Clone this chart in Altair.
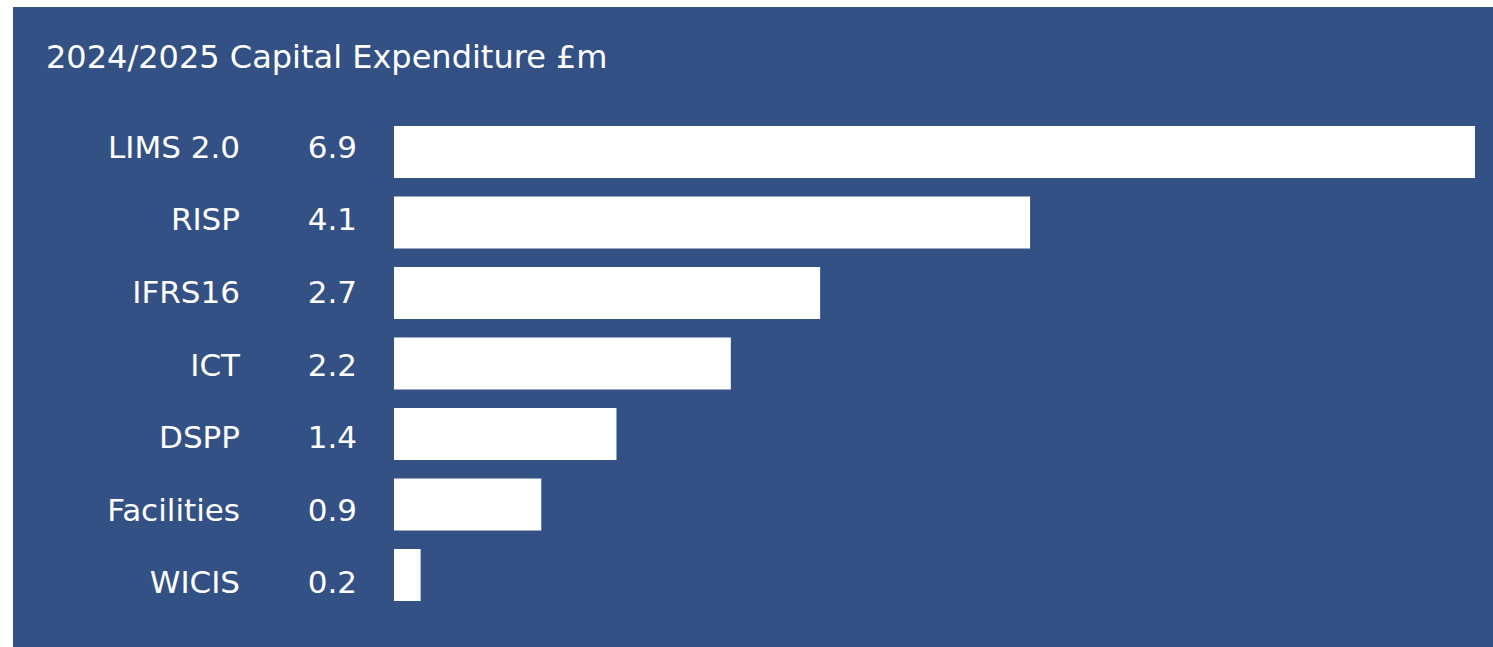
import altair as alt
import pandas as pd

categories = ["LIMS 2.0", "RISP", "IFRS16", "ICT", "DSPP", "Facilities", "WICIS"]
values = [6.9, 4.06, 2.72, 2.15, 1.42, 0.94, 0.17]
value_labels = ["6.9", "4.1", "2.7", "2.2", "1.4", "0.9", "0.2"]
title_text = "2024/2025 Capital Expenditure £m"

df = pd.DataFrame({"cat": categories, "val": values, "lab": value_labels})

BLUE = "#345185"
FONT = "DejaVu Sans"

bar_y = alt.Y("cat:N", sort=categories, axis=None,
              scale=alt.Scale(range=[119, 594], paddingInner=0.262, paddingOuter=0))
text_y = alt.Y("cat:N", sort=categories, axis=None,
               scale=alt.Scale(type="point", range=[150.7, 586.3], padding=0))

bars = alt.Chart(df).mark_bar(color="white", cornerRadius=0).encode(
    x=alt.X("val:Q", axis=None, scale=alt.Scale(domain=[0, 6.9], range=[381, 1462], nice=False, zero=True)),
    y=bar_y,
)

cat_text = alt.Chart(df).mark_text(align="right", baseline="alphabetic", color="white",
                                   font=FONT, fontSize=31).encode(
    x=alt.value(227),
    y=text_y,
    text="cat:N",
)

val_text = alt.Chart(df).mark_text(align="right", baseline="alphabetic", color="white",
                                   font=FONT, fontSize=31).encode(
    x=alt.value(344),
    y=text_y,
    text="lab:N",
)

labels = alt.layer(cat_text, val_text)

title = alt.Chart(pd.DataFrame({"t": [title_text]})).mark_text(
    align="left", baseline="alphabetic", color="white", font=FONT, fontSize=32
).encode(x=alt.value(33), y=alt.value(61.3), text="t:N")

chart = alt.layer(bars, labels, title).resolve_scale(y="independent").properties(
    width=1480, height=640,
    autosize=alt.AutoSizeParams(type="none"),
    padding={"left": 13, "top": 7, "right": 0, "bottom": 0},
    background="white",
).configure_view(fill=BLUE, stroke=None)

chart.save("out.html", embed_options={"renderer": "svg", "actions": False})
